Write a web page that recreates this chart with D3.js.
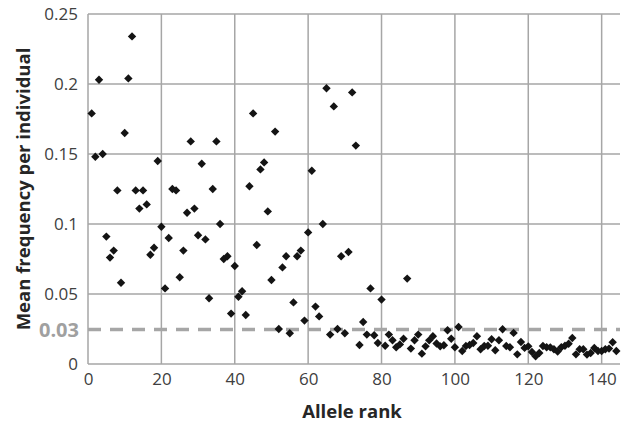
<!DOCTYPE html>
<html>
<head>
<meta charset="utf-8">
<script src="https://cdn.jsdelivr.net/npm/d3@7"></script>
<style>
  body { margin: 0; background: #fff; }
  text { font-family: "Open Sans", "Liberation Sans", sans-serif; }
</style>
</head>
<body>
<svg id="chart" width="627" height="423"></svg>
<script>
// mean frequency per individual, one value per allele rank (rank 1 first)
var freqByRank = [
  0.179, 0.148, 0.203, 0.150, 0.091, 0.076, 0.081, 0.124, 0.058, 0.165,
  0.204, 0.234, 0.124, 0.111, 0.124, 0.114, 0.078, 0.083, 0.145, 0.098,
  0.054, 0.090, 0.125, 0.124, 0.062, 0.081, 0.108, 0.159, 0.111, 0.092,
  0.143, 0.089, 0.047, 0.125, 0.159, 0.100, 0.075, 0.077, 0.036, 0.070,
  0.048, 0.052, 0.035, 0.127, 0.179, 0.085, 0.139, 0.144, 0.109, 0.060,
  0.166, 0.025, 0.069, 0.077, 0.022, 0.044, 0.077, 0.081, 0.031, 0.094,
  0.138, 0.041, 0.034, 0.100, 0.197, 0.021, 0.184, 0.025, 0.077, 0.022,
  0.080, 0.194, 0.156, 0.0136, 0.030, 0.021, 0.054, 0.0205, 0.015, 0.046,
  0.013, 0.021, 0.017, 0.012, 0.014, 0.018, 0.061, 0.011, 0.017, 0.021,
  0.0074, 0.0126, 0.0169, 0.0198, 0.0146, 0.0126, 0.0134, 0.0241, 0.018, 0.012,
  0.0264, 0.0093, 0.0129, 0.0136, 0.015, 0.0198, 0.0105, 0.0129, 0.013, 0.0177,
  0.0098, 0.017, 0.0248, 0.0129, 0.012, 0.0222, 0.0069, 0.0157, 0.0115, 0.0126,
  0.0086, 0.0055, 0.0079, 0.0129, 0.012, 0.0119, 0.0105, 0.0089, 0.012, 0.013,
  0.0145, 0.0186, 0.0069, 0.0105, 0.0105, 0.0067, 0.0079, 0.0114, 0.0093, 0.0093,
  0.0105, 0.011, 0.0155, 0.0093
]
var xTicks = [0, 20, 40, 60, 80, 100, 120, 140]
var yTicks = [0, 0.05, 0.1, 0.15, 0.2, 0.25]
// the cut-off line, drawn where the original figure puts it
var cutoffLine = { value: 0.0246, label: '0.03' }

var points = freqByRank.map(function (v, i) { return { rank: i + 1, freq: v } })

var svg = d3.select('#chart')
var margin = { top: 14, right: 7, bottom: 59, left: 88 }
var width = 627 - margin.left - margin.right
var height = 423 - margin.top - margin.bottom
var gridColor = '#a6a6a6'

var x = d3.scaleLinear().domain([0, 145]).range([0, width])
var y = d3.scaleLinear().domain([0, 0.25]).range([height, 0])

var g = svg.append('g').attr('transform', 'translate(' + margin.left + ',' + margin.top + ')')

// gridlines
g.append('g').selectAll('line.hgrid').data(yTicks).enter().append('line')
  .attr('x1', 0).attr('x2', width)
  .attr('y1', function (d) { return y(d) }).attr('y2', function (d) { return y(d) })
  .attr('stroke', gridColor).attr('stroke-width', 1.5)
g.append('g').selectAll('line.vgrid').data(xTicks).enter().append('line')
  .attr('x1', function (d) { return x(d) }).attr('x2', function (d) { return x(d) })
  .attr('y1', 0).attr('y2', height)
  .attr('stroke', gridColor).attr('stroke-width', 1.5)

// tick labels via axes, domain lines hidden
var yAxis = g.append('g')
  .call(d3.axisLeft(y).tickValues(yTicks).tickSize(0).tickPadding(10)
    .tickFormat(function (d) { return d === 0 ? '0' : String(+d.toFixed(2)) }))
yAxis.select('.domain').remove()
yAxis.selectAll('text').attr('font-size', 17).attr('fill', '#404040')
  .style('font-family', '"Open Sans", sans-serif')

var xAxis = g.append('g').attr('transform', 'translate(0,' + height + ')')
  .call(d3.axisBottom(x).tickValues(xTicks).tickSize(0).tickPadding(9))
xAxis.select('.domain').remove()
xAxis.selectAll('text').attr('font-size', 17).attr('fill', '#404040')
  .style('font-family', '"Open Sans", sans-serif')

// cut-off dashed line and its label
g.append('line')
  .attr('x1', 0).attr('x2', width)
  .attr('y1', y(cutoffLine.value)).attr('y2', y(cutoffLine.value))
  .attr('stroke', gridColor).attr('stroke-width', 3.5)
  .attr('stroke-dasharray', '13,9')
g.append('text')
  .attr('x', -9).attr('y', y(cutoffLine.value))
  .attr('dy', '0.36em').attr('text-anchor', 'end')
  .attr('font-size', 20).attr('font-weight', 'bold').attr('fill', '#a0a0a0')
  .text(cutoffLine.label)

// diamond markers
var diamond = 'M0,-4.2L4.2,0L0,4.2L-4.2,0Z'
g.append('g').selectAll('path.pt').data(points).enter().append('path')
  .attr('class', 'pt')
  .attr('d', diamond)
  .attr('transform', function (d) { return 'translate(' + x(d.rank) + ',' + y(d.freq) + ')' })
  .attr('fill', '#141414')

// axis titles
svg.append('text')
  .attr('x', margin.left + x(72.5) - 2).attr('y', 418)
  .attr('text-anchor', 'middle')
  .attr('font-size', 18.5).attr('font-weight', 'bold').attr('fill', '#262626')
  .text('Allele rank')
svg.append('text')
  .attr('transform', 'translate(30,' + (margin.top + height / 2) + ') rotate(-90)')
  .attr('text-anchor', 'middle')
  .attr('font-size', 18.5).attr('font-weight', 'bold').attr('fill', '#262626')
  .text('Mean frequency per individual')
</script>
</body>
</html>
